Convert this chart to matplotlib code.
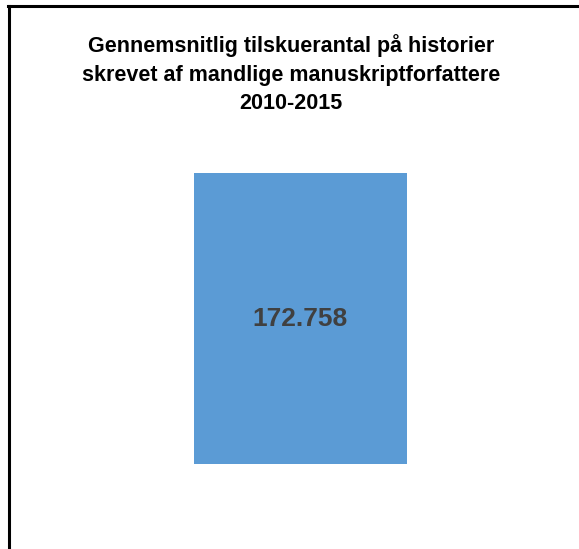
import matplotlib
matplotlib.use("Agg")
import matplotlib.pyplot as plt
from matplotlib.lines import Line2D

categories = ["Mandlige manuskriptforfattere"]
values = [172758]
value_labels = ["172.758"]
title_lines = ["Gennemsnitlig tilskuerantal på historier",
               "skrevet af mandlige manuskriptforfattere",
               "2010-2015"]

W, H = 579, 549
fig = plt.figure(figsize=(W / 100, H / 100), dpi=100)
fig.patch.set_facecolor("white")

ymax = 200000
bottom_px, top_px = 464, 173
ax_top_px = bottom_px - (bottom_px - top_px) * ymax / values[0]
left_px, right_px = 80, 520
ax = fig.add_axes([left_px / W, 1 - bottom_px / H, (right_px - left_px) / W, (bottom_px - ax_top_px) / H])
ax.set_xlim(-0.5, 0.5)
ax.set_ylim(0, ymax)
bars = ax.bar([0], values, width=213 / (right_px - left_px), color="#5B9BD5")
for b, lab in zip(bars, value_labels):
    ax.text(b.get_x() + b.get_width() / 2, b.get_height() / 2, lab,
            ha="center", va="center", fontsize=19, fontweight="bold",
            color="#404040", family="Liberation Sans")
ax.axis("off")

for i, line in enumerate(title_lines):
    fig.text(291 / W, 1 - (52 + 28.5 * i) / H, line, ha="center", va="baseline",
             fontsize=15.5, fontweight="bold", family="Liberation Sans", color="black")

# border (left and top)
x0, y0 = 9 / W, 1 - 6 / H
fig.add_artist(Line2D([x0, x0], [0, y0], transform=fig.transFigure, color="black", lw=2.2))
fig.add_artist(Line2D([x0 - 0.001, 1], [y0, y0], transform=fig.transFigure, color="black", lw=2.2))

fig.savefig("out.png", dpi=100)
